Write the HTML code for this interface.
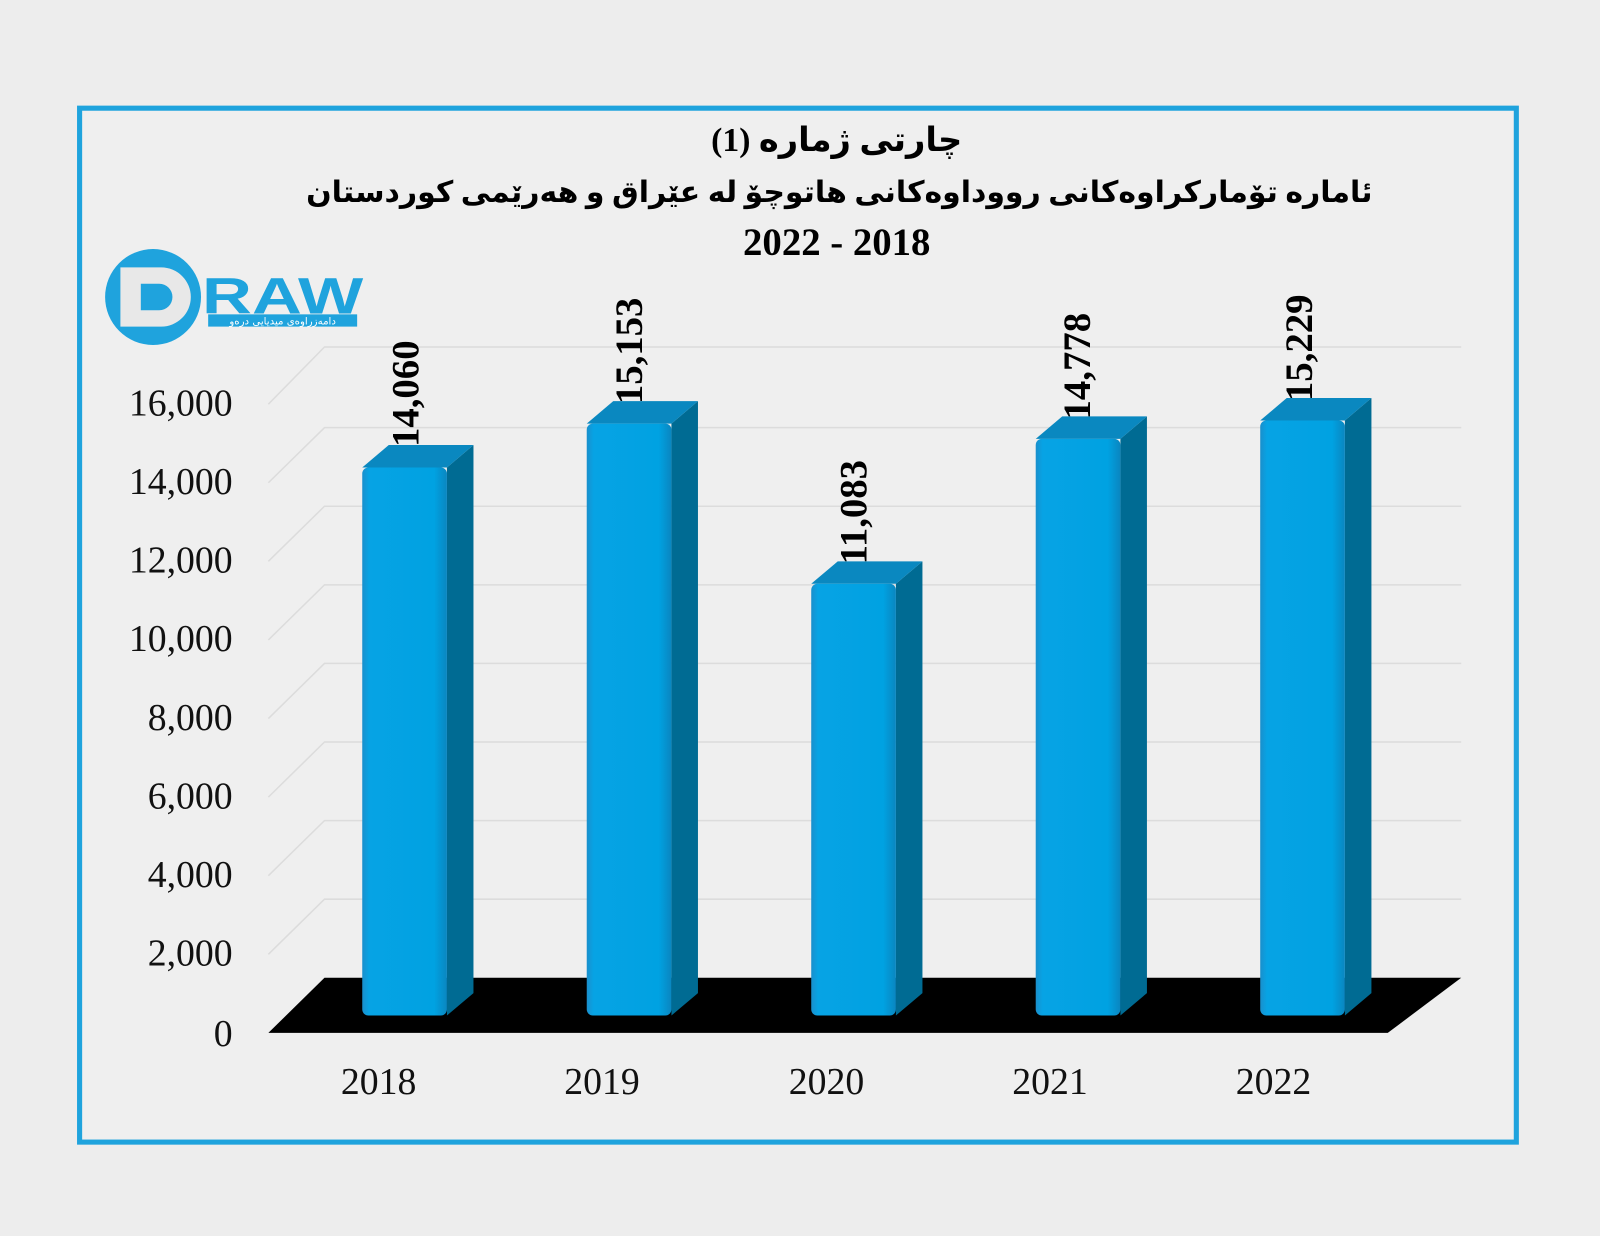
<!DOCTYPE html>
<html><head><meta charset="utf-8"><style>
html,body{margin:0;padding:0;background:#ededed;}
svg{display:block;}
text{font-family:"Liberation Serif",serif;}
</style></head><body>
<svg width="1600" height="1236" viewBox="0 0 1568 1211" preserveAspectRatio="none" xmlns="http://www.w3.org/2000/svg">
<defs>
<linearGradient id="fr" x1="0" x2="1" y1="0" y2="0">
<stop offset="0" stop-color="#1a8fcc"/><stop offset="0.08" stop-color="#07a3e4"/><stop offset="0.85" stop-color="#00a2e2"/><stop offset="1" stop-color="#0a86c0"/></linearGradient>
</defs>
<rect width="1568" height="1211" fill="#ededed"/>
<rect x="78" y="106" width="1408" height="1013" fill="#efefef" stroke="#1fa3dd" stroke-width="5"/>
<g stroke="#dcdcdc" stroke-width="1.5" fill="none">
<path d="M263,935 L318,881 L1432,881"/>
<path d="M263,858 L318,804 L1432,804"/>
<path d="M263,781 L318,727 L1432,727"/>
<path d="M263,704 L318,650 L1432,650"/>
<path d="M263,627 L318,573 L1432,573"/>
<path d="M263,550 L318,496 L1432,496"/>
<path d="M263,473 L318,419 L1432,419"/>
<path d="M263,396 L318,340 L1432,340"/>
</g>
<polygon points="318,958 1432,958 1360,1012 263,1012" fill="#000"/>
<g>
<g transform="translate(355,0)">
<polygon points="83,458 109,436 109,973 83,995" fill="#006b93"/>
<polygon points="0,458 26,436 109,436 83,458" fill="#0a88c0"/>
<rect x="0" y="458" width="83" height="537" rx="6" fill="url(#fr)"/>
</g>
<g transform="translate(575,0)">
<polygon points="83,415 109,393 109,973 83,995" fill="#006b93"/>
<polygon points="0,415 26,393 109,393 83,415" fill="#0a88c0"/>
<rect x="0" y="415" width="83" height="580" rx="6" fill="url(#fr)"/>
</g>
<g transform="translate(795,0)">
<polygon points="83,572 109,550 109,973 83,995" fill="#006b93"/>
<polygon points="0,572 26,550 109,550 83,572" fill="#0a88c0"/>
<rect x="0" y="572" width="83" height="423" rx="6" fill="url(#fr)"/>
</g>
<g transform="translate(1015,0)">
<polygon points="83,430 109,408 109,973 83,995" fill="#006b93"/>
<polygon points="0,430 26,408 109,408 83,430" fill="#0a88c0"/>
<rect x="0" y="430" width="83" height="565" rx="6" fill="url(#fr)"/>
</g>
<g transform="translate(1235,0)">
<polygon points="83,412 109,390 109,973 83,995" fill="#006b93"/>
<polygon points="0,412 26,390 109,390 83,412" fill="#0a88c0"/>
<rect x="0" y="412" width="83" height="583" rx="6" fill="url(#fr)"/>
</g>
</g>
<g font-size="38" font-weight="bold" fill="#000">
<text transform="translate(410,438) rotate(-90)">14,060</text>
<text transform="translate(629,396) rotate(-90)">15,153</text>
<text transform="translate(849,553) rotate(-90)">11,083</text>
<text transform="translate(1068,411) rotate(-90)">14,778</text>
<text transform="translate(1286,393) rotate(-90)">15,229</text>
</g>
<g font-size="37" fill="#111" text-anchor="end">
<text x="228" y="407">16,000</text>
<text x="228" y="484">14,000</text>
<text x="228" y="561">12,000</text>
<text x="228" y="638">10,000</text>
<text x="228" y="715">8,000</text>
<text x="228" y="792">6,000</text>
<text x="228" y="869">4,000</text>
<text x="228" y="946">2,000</text>
<text x="228" y="1025">0</text>
</g>
<g font-size="37" fill="#111" text-anchor="middle">
<text x="371" y="1072">2018</text>
<text x="590" y="1072">2019</text>
<text x="810" y="1072">2020</text>
<text x="1029" y="1072">2021</text>
<text x="1248" y="1072">2022</text>
</g>
<g font-weight="bold" fill="#000" text-anchor="middle">
<text x="820" y="148" font-size="33" style='font-family:"Liberation Serif","DejaVu Sans",serif' direction="rtl">چارتی ژمارە (1)</text>
<text x="300" y="198" font-size="29" textLength="1045" lengthAdjust="spacingAndGlyphs" text-anchor="start" style='font-family:"Liberation Serif","DejaVu Sans",serif'>ئامارە تۆمارکراوەکانی رووداوەکانی هاتوچۆ لە عێراق و هەرێمی کوردستان</text>
<text x="820" y="250" font-size="38">2022 - 2018</text>
</g>
<g>
<circle cx="150" cy="291" r="47" fill="#1fa3dd"/>
<path d="M118,262 L158,262 A28,28 0 0 1 158,320 L118,320 Z M138,278 L156,278 A12,12 0 0 1 156,304 L138,304 Z" fill="#e8e8e8" fill-rule="evenodd"/>
<text x="198" y="307" font-size="50" font-weight="bold" fill="#1fa3dd" textLength="158" lengthAdjust="spacingAndGlyphs" style='font-family:"Liberation Sans",sans-serif'>RAW</text>
<rect x="204" y="308" width="146" height="12" fill="#1fa3dd"/>
<text x="277" y="318" font-size="10" fill="#fff" text-anchor="middle" style='font-family:"DejaVu Sans",sans-serif' direction="rtl">دامەزراوەی میدیایی درەو</text>
</g>
</svg>
</body></html>
